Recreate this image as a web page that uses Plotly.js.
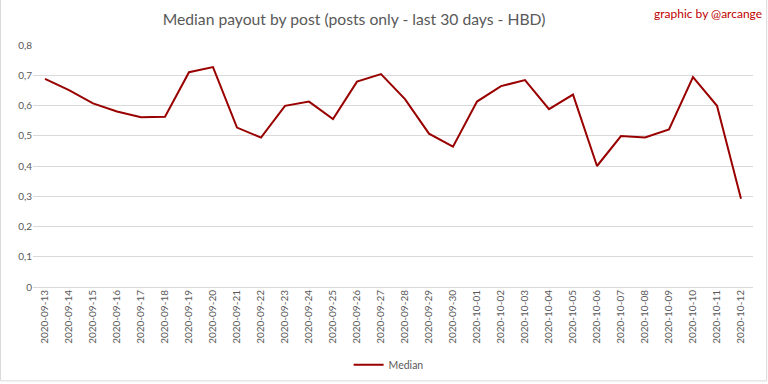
<!DOCTYPE html>
<html>
<head>
<meta charset="utf-8">
<script src="https://cdn.plot.ly/plotly-3.0.1.min.js"></script>
<style>html,body{margin:0;padding:0;background:#fff;}#chart{width:768px;height:384px;}</style>
</head>
<body>
<div id="chart"></div>
<script>
const dates = ["2020-09-13","2020-09-14","2020-09-15","2020-09-16","2020-09-17","2020-09-18","2020-09-19","2020-09-20","2020-09-21","2020-09-22","2020-09-23","2020-09-24","2020-09-25","2020-09-26","2020-09-27","2020-09-28","2020-09-29","2020-09-30","2020-10-01","2020-10-02","2020-10-03","2020-10-04","2020-10-05","2020-10-06","2020-10-07","2020-10-08","2020-10-09","2020-10-10","2020-10-11","2020-10-12"];
const median = [0.688,0.651,0.607,0.580,0.561,0.563,0.710,0.727,0.527,0.494,0.599,0.613,0.555,0.679,0.704,0.621,0.507,0.464,0.613,0.664,0.684,0.588,0.636,0.400,0.499,0.494,0.521,0.694,0.599,0.292];
const seriesName = "Median";
const titleText = "Median payout by post (posts only - last 30 days - HBD)";
const creditText = "graphic by @arcange";

const font = "Lato, 'Open Sans', sans-serif";
Plotly.newPlot("chart", [{
  x: dates, y: median, type: "scatter", mode: "lines", name: seriesName,
  line: {color: "#990000", width: 2}
}], {
  width: 768, height: 384,
  margin: {l: 33, r: 15, t: 45, b: 97},
  paper_bgcolor: "#fff", plot_bgcolor: "#fff",
  separators: ",.",
  font: {family: font, color: "#595959", size: 10},
  title: {text: titleText, xref: "container", x: 0.461, xanchor: "center", yref: "container", y: 0.95, yanchor: "middle",
    font: {family: font, size: 15.7, color: "#595959"}},
  xaxis: {type: "category", tickangle: -90, showgrid: false, showline: false, zeroline: false, automargin: false,
    ticks: "", tickfont: {family: font, size: 10, color: "#595959"}, range: [-0.5, dates.length - 0.5]},
  yaxis: {range: [0, 0.8], dtick: 0.1, showgrid: true, gridcolor: "#d9d9d9", gridwidth: 1, automargin: false,
    zeroline: true, zerolinecolor: "#d9d9d9", showline: false, ticks: "",
    tickfont: {family: font, size: 10, color: "#595959"}},
  showlegend: true,
  legend: {orientation: "h", xref: "container", x: 0.506, xanchor: "center", yref: "container", y: 0.05, yanchor: "middle",
    itemwidth: 30, font: {family: font, size: 10.5, color: "#595959"}},
  annotations: [{text: creditText, xref: "paper", yref: "paper", x: 1.015, xanchor: "right",
    y: 1.132, yanchor: "middle", showarrow: false, font: {family: font, size: 12, color: "#c00000"}}],
  shapes: [{type: "rect", xref: "paper", yref: "paper", x0: -0.045, x1: 1.019, y0: -0.388, y1: 1.19,
    line: {color: "#d9d9d9", width: 1}, fillcolor: "rgba(0,0,0,0)"}]
}, {displayModeBar: false, staticPlot: true});
</script>
</body>
</html>
